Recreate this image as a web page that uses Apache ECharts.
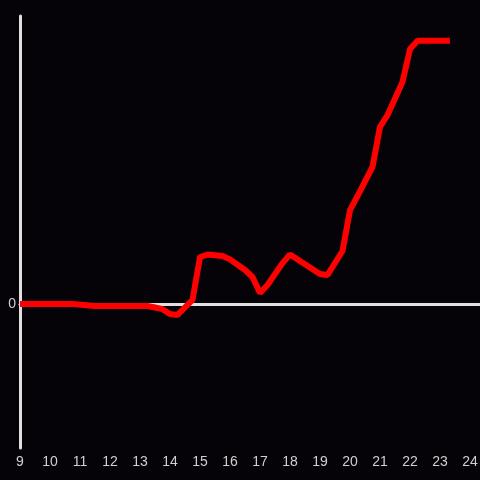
<!DOCTYPE html>
<html><head><meta charset="utf-8">
<script src="https://cdn.jsdelivr.net/npm/echarts@6/dist/echarts.min.js"></script>
<style>html,body{margin:0;padding:0;background:#050307;}#c{width:480px;height:480px;}</style>
</head><body><div id="c"></div>
<script>
const hours = [9.0,10.75,11.5,13.25,13.5,13.75,14.0,14.25,14.75,15.0,15.25,15.75,16.0,16.5,16.75,17.0,17.25,17.75,18.0,19.0,19.25,19.75,20.0,20.25,20.75,21.0,21.25,21.75,22.0,22.25,23.33];
const values = [0,0,-0.7,-0.7,-1.2,-1.8,-3.5,-3.8,1.4,16.3,17.2,16.7,15.5,11.8,9.4,3.8,6.6,14.2,17.2,10.4,10.1,18.4,32.6,37.5,47.6,61.5,65.6,77.1,88.5,91.4,91.4];
const xTicks = [9,10,11,12,13,14,15,16,17,18,19,20,21,22,23,24];
const yLabels = ['0'];

const data = hours.map((h,i)=>[h, values[i]]);
const chart = echarts.init(document.getElementById('c'));
const lab = {color:'#d0d0d0', fontSize:14, fontFamily:'Liberation Sans, Arial, sans-serif'};
chart.setOption({
  backgroundColor:'#050307',
  animation:false,
  grid:{left:20,right:0,top:16,bottom:32, containLabel:false, outerBoundsMode:'none'},
  xAxis:[{
    type:'value', min:9, max:24.333, interval:1, position:'bottom',
    axisLine:{show:false, onZero:false}, axisTick:{show:false}, splitLine:{show:false},
    axisLabel:Object.assign({margin:7, showMaxLabel:false, formatter:v=> xTicks.includes(v)? String(v):''}, lab)
  },{
    type:'value', min:9, max:24.333, interval:1, position:'top',
    axisLine:{show:true, onZero:true, lineStyle:{color:'#e0e0e0', width:3}},
    axisTick:{show:false}, axisLabel:{show:false}, splitLine:{show:false}
  }],
  yAxis:{
    type:'value', min:-50, max:100, interval:50,
    axisLine:{show:true, lineStyle:{color:'#e0e0e0', width:3}},
    axisTick:{show:false}, splitLine:{show:false},
    axisLabel:Object.assign({margin:4, verticalAlign:'middle', padding:[2,0,0,0], formatter:v=> yLabels.includes(String(v))? String(v):''}, lab)
  },
  series:[{
    type:'line', data:data, showSymbol:false, symbol:'none',
    lineStyle:{color:'#ff0000', width:6}, z:5
  }]
});
</script></body></html>
